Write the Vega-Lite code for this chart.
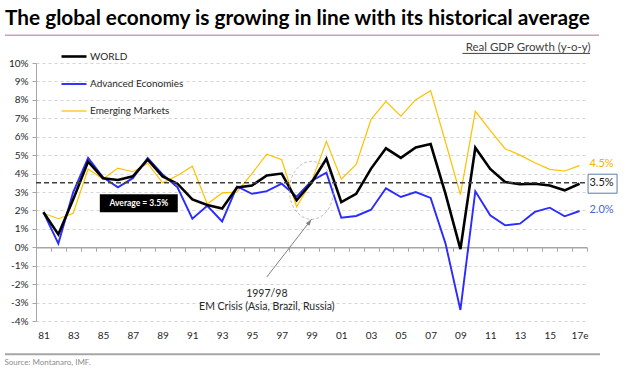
{
  "$schema": "https://vega.github.io/schema/vega-lite/v6.json",
  "autosize": "none",
  "width": 551,
  "height": 258,
  "padding": {"left": 36, "top": 63, "right": 41, "bottom": 47},
  "title": {"text": "The global economy is growing in line with its historical average", "anchor": "start", "frame": "group", "dx": -31, "offset": 5, "fontSize": 20.8, "font": "Lato", "fontWeight": "bold", "color": "#000000"},
  "config": {
    "view": {"stroke": null},
    "font": "Lato",
    "axis": {"labelFont": "Lato", "labelFontSize": 10, "labelColor": "#262626", "domainColor": "#a6a6a6", "tickColor": "#a6a6a6", "title": null}
  },
  "datasets": {
    "gdp": [
      {"year": 1981, "WORLD": 1.9, "Advanced Economies": 1.9, "Emerging Markets": 1.85},
      {"year": 1982, "WORLD": 0.7, "Advanced Economies": 0.2, "Emerging Markets": 1.55},
      {"year": 1983, "WORLD": 2.6, "Advanced Economies": 3.0, "Emerging Markets": 1.85},
      {"year": 1984, "WORLD": 4.65, "Advanced Economies": 4.85, "Emerging Markets": 4.25},
      {"year": 1985, "WORLD": 3.75, "Advanced Economies": 3.8, "Emerging Markets": 3.7},
      {"year": 1986, "WORLD": 3.65, "Advanced Economies": 3.25, "Emerging Markets": 4.3},
      {"year": 1987, "WORLD": 3.85, "Advanced Economies": 3.75, "Emerging Markets": 4.1},
      {"year": 1988, "WORLD": 4.75, "Advanced Economies": 4.85, "Emerging Markets": 4.55},
      {"year": 1989, "WORLD": 3.85, "Advanced Economies": 3.95, "Emerging Markets": 3.5},
      {"year": 1990, "WORLD": 3.45, "Advanced Economies": 3.25, "Emerging Markets": 3.9},
      {"year": 1991, "WORLD": 2.6, "Advanced Economies": 1.55, "Emerging Markets": 4.4},
      {"year": 1992, "WORLD": 2.3, "Advanced Economies": 2.25, "Emerging Markets": 2.35},
      {"year": 1993, "WORLD": 2.1, "Advanced Economies": 1.4, "Emerging Markets": 2.95},
      {"year": 1994, "WORLD": 3.25, "Advanced Economies": 3.3, "Emerging Markets": 3.0},
      {"year": 1995, "WORLD": 3.35, "Advanced Economies": 2.9, "Emerging Markets": 4.0},
      {"year": 1996, "WORLD": 3.9, "Advanced Economies": 3.05, "Emerging Markets": 5.05},
      {"year": 1997, "WORLD": 4.0, "Advanced Economies": 3.45, "Emerging Markets": 4.75},
      {"year": 1998, "WORLD": 2.55, "Advanced Economies": 2.75, "Emerging Markets": 2.2},
      {"year": 1999, "WORLD": 3.5, "Advanced Economies": 3.6, "Emerging Markets": 3.55},
      {"year": 2000, "WORLD": 4.8, "Advanced Economies": 4.05, "Emerging Markets": 5.75},
      {"year": 2001, "WORLD": 2.45, "Advanced Economies": 1.6, "Emerging Markets": 3.7},
      {"year": 2002, "WORLD": 2.9, "Advanced Economies": 1.7, "Emerging Markets": 4.5},
      {"year": 2003, "WORLD": 4.27, "Advanced Economies": 2.04, "Emerging Markets": 6.94},
      {"year": 2004, "WORLD": 5.37, "Advanced Economies": 3.2, "Emerging Markets": 7.92},
      {"year": 2005, "WORLD": 4.85, "Advanced Economies": 2.73, "Emerging Markets": 7.12},
      {"year": 2006, "WORLD": 5.42, "Advanced Economies": 3.0, "Emerging Markets": 8.01},
      {"year": 2007, "WORLD": 5.6, "Advanced Economies": 2.68, "Emerging Markets": 8.5},
      {"year": 2008, "WORLD": 2.9, "Advanced Economies": 0.2, "Emerging Markets": 5.7},
      {"year": 2009, "WORLD": -0.1, "Advanced Economies": -3.4, "Emerging Markets": 2.86},
      {"year": 2010, "WORLD": 5.4, "Advanced Economies": 3.04, "Emerging Markets": 7.38},
      {"year": 2011, "WORLD": 4.25, "Advanced Economies": 1.74, "Emerging Markets": 6.35},
      {"year": 2012, "WORLD": 3.54, "Advanced Economies": 1.19, "Emerging Markets": 5.35},
      {"year": 2013, "WORLD": 3.42, "Advanced Economies": 1.28, "Emerging Markets": 5.0},
      {"year": 2014, "WORLD": 3.45, "Advanced Economies": 1.92, "Emerging Markets": 4.59},
      {"year": 2015, "WORLD": 3.35, "Advanced Economies": 2.15, "Emerging Markets": 4.23},
      {"year": 2016, "WORLD": 3.09, "Advanced Economies": 1.68, "Emerging Markets": 4.14},
      {"year": 2017, "WORLD": 3.45, "Advanced Economies": 1.97, "Emerging Markets": 4.43}
    ],
    "endLabels": [
      {"year": 2017, "series": "Emerging Markets", "growth": 4.5, "label": "4.5%"},
      {"year": 2017, "series": "WORLD", "growth": 3.5, "label": "3.5%"},
      {"year": 2017, "series": "Advanced Economies", "growth": 2.0, "label": "2.0%"}
    ]
  },
  "encoding": {
    "x": {
      "field": "year", "type": "ordinal", "bandPosition": 0.5,
      "scale": {"type": "band", "paddingInner": 0, "paddingOuter": 0},
      "axis": {"title": null, "grid": false, "offset": -73.714, "tickBand": "extent", "domainWidth": 1.5, "tickSize": 4, "labelPadding": 79, "labelAngle": 0, "labelOverlap": false, "labelFlush": false, "labelBound": false, "labelExpr": "(datum.value == null || datum.value % 2 == 0) ? '' : (datum.value == 2017 ? '17e' : substring(toString(datum.value), 2, 4))"}
    },
    "y": {
      "field": "growth", "type": "quantitative",
      "scale": {"domain": [-4, 10], "nice": false, "zero": false},
      "axis": {"title": null, "values": [-4, -3, -2, -1, 0, 1, 2, 3, 4, 5, 6, 7, 8, 9, 10], "labelOverlap": false, "labelFlush": false, "grid": true, "gridColor": "#d4d4d4", "gridDash": [3, 3], "gridOpacity": 1, "tickSize": 4, "labelPadding": 4, "labelExpr": "datum.value + '%'"}
    }
  },
  "layer": [
    {
      "data": {"name": "gdp"},
      "transform": [{"fold": ["Emerging Markets", "Advanced Economies", "WORLD"], "as": ["series", "growth"]}],
      "mark": {"type": "line"},
      "encoding": {
        "color": {
          "field": "series", "type": "nominal",
          "scale": {"domain": ["WORLD", "Advanced Economies", "Emerging Markets"], "range": ["#000000", "#2b2bff", "#ffc000"]},
          "legend": {"title": null, "orient": "none", "legendX": 24, "legendY": -20.5, "direction": "vertical", "symbolType": "stroke", "symbolSize": 625, "symbolStrokeWidth": 1.5, "labelFontSize": 10, "labelColor": "#262626", "labelFont": "Lato", "labelOffset": 2, "rowPadding": 8, "padding": 0,
            "encode": {"symbols": {"update": {"strokeWidth": {"signal": "datum.value === 'WORLD' ? 3 : 1.5"}}}}}
        },
        "strokeWidth": {
          "field": "series", "type": "nominal",
          "scale": {"domain": ["WORLD", "Advanced Economies", "Emerging Markets"], "range": [2.6, 1.2, 1.2]},
          "legend": null
        }
      }
    },
    {
      "data": {"values": [{"growth": 3.5}]},
      "mark": {"type": "rule", "color": "#404040", "strokeWidth": 1.5, "strokeDash": [5, 3]},
      "encoding": {"x": {"value": 0}, "x2": {"value": "width"}}
    },
    {
      "data": {"values": [{"year": 1999, "growth": 3.09}]},
      "mark": {"type": "point", "filled": false, "color": "#a6a6a6", "strokeWidth": 1, "strokeDash": [3, 2], "size": 3364, "shape": "M-0.76,0A0.76,1,0,1,0,0.76,0A0.76,1,0,1,0,-0.76,0Z"},
      "encoding": {}
    },
    {
      "data": {"values": [{"year": 1996, "growth": -1.61}, {"year": 1999, "growth": 1.52}]},
      "mark": {"type": "line", "color": "#808080", "strokeWidth": 1},
      "encoding": {}
    },
    {
      "data": {"values": [{"year": 1999, "growth": 1.52}]},
      "mark": {"type": "point", "filled": true, "color": "#808080", "opacity": 1, "size": 100, "angle": 36.5, "shape": "M0,0L-0.45,1.3L0.45,1.3Z"},
      "encoding": {}
    },
    {
      "data": {"values": [{"year": 1996, "growth": -2.52}]},
      "mark": {"type": "text", "text": ["1997/98", "EM Crisis (Asia, Brazil, Russia)"], "align": "center", "baseline": "middle", "lineHeight": 13, "fontSize": 10.5, "font": "Lato", "color": "#262626"},
      "encoding": {}
    },
    {
      "data": {"values": [{"year": 1987, "growth": 2.39}]},
      "mark": {"type": "point", "filled": true, "color": "#000000", "opacity": 1, "size": 324, "shape": "M-4.33,-1H4.33V1H-4.33Z", "xOffset": 6},
      "encoding": {}
    },
    {
      "data": {"values": [{"year": 1987, "growth": 2.39}]},
      "mark": {"type": "text", "text": "Average  = 3.5%", "align": "center", "baseline": "middle", "fontSize": 8.5, "fontWeight": "bold", "font": "Lato", "color": "#ffffff", "xOffset": 6},
      "encoding": {}
    },
    {
      "data": {"values": [{"year": 2017, "growth": 3.45}]},
      "mark": {"type": "point", "filled": false, "color": "#5b7fa6", "strokeWidth": 1, "size": 400, "shape": "M-1.45,-0.95H1.45V0.95H-1.45Z", "xOffset": 23, "opacity": 1},
      "encoding": {}
    },
    {
      "data": {"name": "endLabels"},
      "mark": {"type": "text", "align": "center", "baseline": "middle", "dx": 22, "fontSize": 11, "font": "Lato"},
      "encoding": {
        "text": {"field": "label"},
        "color": {"condition": [{"test": "datum.series === 'Emerging Markets'", "value": "#f2b200"}, {"test": "datum.series === 'Advanced Economies'", "value": "#4f63d2"}], "value": "#1a1a1a"}
      }
    },
    {
      "data": {"values": [{"year": 2017, "growth": 10.82}]},
      "mark": {"type": "text", "text": "Real GDP Growth (y-o-y)", "align": "right", "baseline": "middle", "dx": 11, "fontSize": 11.5, "font": "Lato", "color": "#404040"},
      "encoding": {}
    },
    {
      "data": {"values": [{"year": 2009, "growth": 10.52}]},
      "mark": {"type": "rule", "color": "#404040", "strokeWidth": 1, "xOffset": 2},
      "encoding": {"x2": {"value": 554}}
    },
    {
      "data": {"values": [{"growth": 11.5}]},
      "mark": {"type": "rule", "color": "#c8a2ba", "strokeWidth": 1.5},
      "encoding": {"x": {"value": -31}, "x2": {"value": 563}}
    },
    {
      "data": {"values": [{"growth": -5.8}]},
      "mark": {"type": "rule", "color": "#a6a6a6", "strokeWidth": 2},
      "encoding": {"x": {"value": -31}, "x2": {"value": 564}}
    },
    {
      "data": {"values": [{"year": 1981, "growth": -6.29}]},
      "mark": {"type": "text", "text": "Source: Montanaro, IMF.", "align": "left", "baseline": "middle", "dx": -39, "fontSize": 8, "font": "Lato", "color": "#8c8c8c"},
      "encoding": {}
    }
  ]
}
